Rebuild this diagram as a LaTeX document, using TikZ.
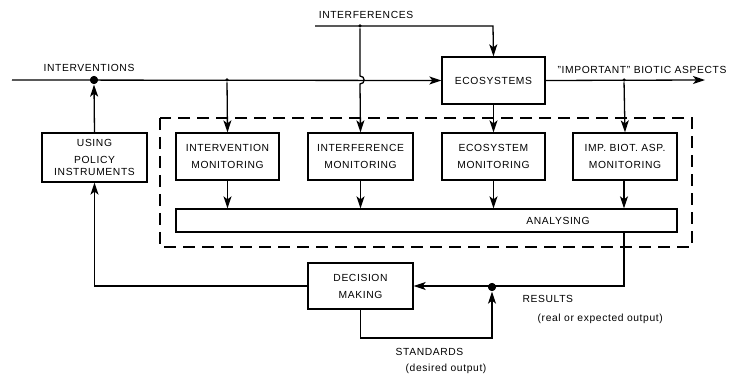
\documentclass[tikz,border=0pt]{standalone}
\usepackage{fontspec}
\setmainfont[LetterSpace=6]{Liberation Sans}
\usetikzlibrary{arrows.meta,calc}
\begin{document}
\begin{tikzpicture}[x=1pt,y=-1pt,line width=1.3pt,
  arr/.style={-{Stealth[length=12pt,width=8pt,inset=3pt]}},
  blk/.style={draw,rectangle,minimum height=47pt,align=center,
    font=\fontsize{10.3}{17}\selectfont,inner sep=0pt},
  lbl/.style={font=\fontsize{10.3}{12}\selectfont,inner sep=0pt},
  dot/.style={circle,fill,inner sep=0pt,minimum size=8pt},
  sdot/.style={circle,fill,inner sep=0pt,minimum size=3.5pt},
  frame/.style={dashed,dash pattern=on 12pt off 7pt}]
\useasboundingbox (0,0) rectangle (734,379);

% boxes
\node[blk,minimum width=105pt,minimum height=49pt] (policy) at (94.5,157.5) {USING\\POLICY\\[-5pt]INSTRUMENTS};
\node[blk,minimum width=103pt] (eco)   at (493.5,80.5)  {ECOSYSTEMS};
\node[blk,minimum width=103pt] (imon)  at (227.5,156.5) {INTERVENTION\\MONITORING};
\node[blk,minimum width=105pt] (ifmon) at (360.5,156.5) {INTERFERENCE\\MONITORING};
\node[blk,minimum width=103pt] (emon)  at (493.5,156.5) {ECOSYSTEM\\MONITORING};
\node[blk,minimum width=104pt] (bmon)  at (625,156.5)   {IMP. BIOT. ASP.\\MONITORING};
\node[blk,minimum width=501pt,minimum height=23pt] (ana) at (426.5,220.5) {};
\node[lbl] (anaText) at (558,221) {ANALYSING};
\node[blk,minimum width=105pt,minimum height=46pt] (dec) at (360.5,286) {DECISION\\MAKING};

% monitoring frame
\draw[frame,line width=1.1pt] (160,118) rectangle (692,247);

% junctions and free ends
\coordinate (inStart) at (12,80);
\node[dot]  (dIn) at (94,80) {};
\node[sdot] (j1)  at (227,80) {};
\coordinate (ifStart)  at (315,26);
\node[sdot] (j2) at (360,26) {};
\coordinate (ifCorner) at (493,26);
\coordinate (jumpA) at (360,76);
\coordinate (jumpB) at (360,84);
\coordinate (outEnd) at (705,80);
\node[sdot] (j3) at (624,80) {};
\node[dot]  (dRes) at (492,287) {};
\coordinate (stdC) at (492,338);
\coordinate (resTop) at (624,232);

% interventions into the ecosystems
\draw[arr] (inStart) -- (eco.west);
\draw[arr] (j1) -- (imon.north);
% interferences
\draw[arr] (ifStart) -- (ifCorner) -- (eco.north);
\draw[arr] (j2) -- (jumpA) .. controls ($(jumpA)+(5.5,0)$) and ($(jumpB)+(5.5,0)$) .. (jumpB) -- (ifmon.north);
% ecosystem output
\draw[arr] (eco.east) -- (outEnd);
\draw[arr] (eco.south) -- (emon.north);
\draw[arr] (j3) -- (bmon.north);

% monitoring into analysing
\draw[arr] (imon.south)  -- (imon.south  |- ana.north);
\draw[arr] (ifmon.south) -- (ifmon.south |- ana.north);
\draw[arr] (emon.south)  -- (emon.south  |- ana.north);
\draw[arr] (bmon.south -| j3) -- (j3 |- ana.north);

% results, decision and feedback
\draw[arr] (resTop) |- (dec.east);
\draw[arr] (dec.south) |- (stdC) -- (dRes.south);
\draw[arr] (dec.west) -| (policy.south);
\draw[arr] (policy.north) -- (dIn.south);

% redraw the dots on top
\fill (dIn) circle (4pt);
\fill (dRes) circle (4pt);

% labels
\node[lbl] (lInt) at (89,68) {INTERVENTIONS};
\node[lbl] (lIf)  at (366,15) {INTERFERENCES};
\node[lbl] (lBio) at (642,70) {"IMPORTANT" BIOTIC ASPECTS};
\node[lbl,anchor=west] (lRes)  at (522,299) {RESULTS};
\node[lbl,anchor=west] (lRes2) at (537,319) {(real or expected output)};
\node[lbl,anchor=west] (lStd)  at (395,352) {STANDARDS};
\node[lbl,anchor=west] (lStd2) at (405,369) {(desired output)};
\end{tikzpicture}
\end{document}
